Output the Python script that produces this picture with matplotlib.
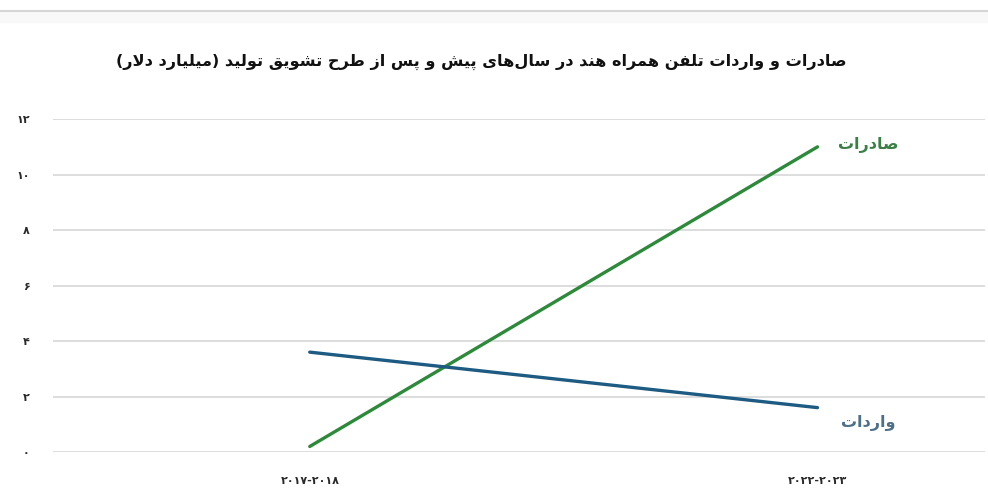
import matplotlib
matplotlib.use("Agg")
import matplotlib.pyplot as plt
from matplotlib.lines import Line2D

# joining forms: (isolated, final, initial, medial); right-joining letters have only two
FORMS = {
    'ا': (0xFE8D, 0xFE8E), 'آ': (0xFE81, 0xFE82),
    'د': (0xFEA9, 0xFEAA), 'ذ': (0xFEAB, 0xFEAC),
    'ر': (0xFEAD, 0xFEAE), 'ز': (0xFEAF, 0xFEB0),
    'ژ': (0xFB8A, 0xFB8B), 'و': (0xFEED, 0xFEEE),
    'ب': (0xFE8F, 0xFE90, 0xFE91, 0xFE92), 'پ': (0xFB56, 0xFB57, 0xFB58, 0xFB59),
    'ت': (0xFE95, 0xFE96, 0xFE97, 0xFE98), 'ث': (0xFE99, 0xFE9A, 0xFE9B, 0xFE9C),
    'ج': (0xFE9D, 0xFE9E, 0xFE9F, 0xFEA0), 'چ': (0xFB7A, 0xFB7B, 0xFB7C, 0xFB7D),
    'ح': (0xFEA1, 0xFEA2, 0xFEA3, 0xFEA4), 'خ': (0xFEA5, 0xFEA6, 0xFEA7, 0xFEA8),
    'س': (0xFEB1, 0xFEB2, 0xFEB3, 0xFEB4), 'ش': (0xFEB5, 0xFEB6, 0xFEB7, 0xFEB8),
    'ص': (0xFEB9, 0xFEBA, 0xFEBB, 0xFEBC), 'ض': (0xFEBD, 0xFEBE, 0xFEBF, 0xFEC0),
    'ط': (0xFEC1, 0xFEC2, 0xFEC3, 0xFEC4), 'ظ': (0xFEC5, 0xFEC6, 0xFEC7, 0xFEC8),
    'ع': (0xFEC9, 0xFECA, 0xFECB, 0xFECC), 'غ': (0xFECD, 0xFECE, 0xFECF, 0xFED0),
    'ف': (0xFED1, 0xFED2, 0xFED3, 0xFED4), 'ق': (0xFED5, 0xFED6, 0xFED7, 0xFED8),
    'ک': (0xFB8E, 0xFB8F, 0xFB90, 0xFB91), 'گ': (0xFB92, 0xFB93, 0xFB94, 0xFB95),
    'ل': (0xFEDD, 0xFEDE, 0xFEDF, 0xFEE0), 'م': (0xFEE1, 0xFEE2, 0xFEE3, 0xFEE4),
    'ن': (0xFEE5, 0xFEE6, 0xFEE7, 0xFEE8), 'ه': (0xFEE9, 0xFEEA, 0xFEEB, 0xFEEC),
    'ی': (0xFBFC, 0xFBFD, 0xFBFE, 0xFBFF),
}
MIRROR = {'(': ')', ')': '('}


def fa(text):
    # shape persian letters into presentation forms, then lay out right to left
    out = []
    chars = list(text)
    i = 0
    while i < len(chars):
        c = chars[i]
        if c == '\u200c':
            i += 1
            continue
        if c not in FORMS:
            out.append(MIRROR.get(c, c))
            i += 1
            continue
        prev = chars[i - 1] if i > 0 else ''
        joins_prev = prev in FORMS and len(FORMS[prev]) == 4
        if c == 'ل' and i + 1 < len(chars) and chars[i + 1] == 'ا':
            out.append(chr(0xFEFC if joins_prev else 0xFEFB))
            i += 2
            continue
        nxt = chars[i + 1] if i + 1 < len(chars) else ''
        joins_next = len(FORMS[c]) == 4 and nxt in FORMS
        f = FORMS[c]
        if joins_prev and joins_next:
            g = f[3]
        elif joins_prev:
            g = f[1]
        elif joins_next:
            g = f[2]
        else:
            g = f[0]
        out.append(chr(g))
        i += 1
    return ''.join(reversed(out))


title = 'صادرات و واردات تلفن همراه هند در سال\u200cهای پیش و پس از طرح تشویق تولید (میلیارد دلار)'
years = ['۲۰۱۷-۲۰۱۸', '۲۰۲۲-۲۰۲۳']
exports = [0.2, 11.0]
imports = [3.6, 1.6]
series_names = ['صادرات', 'واردات']
yticks = [0, 2, 4, 6, 8, 10, 12]
ytick_labels = ['۰', '۲', '۴', '۶', '۸', '۱۰', '۱۲']

green = '#2d8a3a'
blue = '#1d5b82'

plt.rcParams['font.family'] = ['DejaVu Sans']

fig = plt.figure(figsize=(9.88, 4.91), dpi=100)
ax = fig.add_axes([0.054, 0.0794, 0.943, 0.678])

x = list(range(len(years)))
ax.plot(x, exports, color=green, lw=2.4, solid_capstyle='round', clip_on=False, zorder=3)
ax.plot(x, imports, color=blue, lw=2.4, solid_capstyle='round', clip_on=False, zorder=3)

ax.text(1.1, exports[1] + 0.05, fa(series_names[0]), color='#3a7f45', fontsize=11.5,
        fontweight='bold', va='center', ha='center')
ax.text(1.1, imports[1] - 0.55, fa(series_names[1]), color='#4d6f88', fontsize=11.5,
        fontweight='bold', va='center', ha='center')

ax.set_xlim(-0.505, 1.33)
ax.set_ylim(0, 12)
ax.set_yticks(yticks)
ax.set_yticklabels(ytick_labels, fontsize=8, color='#2a2a2a', fontweight='bold')
ax.set_xticks(x)
ax.set_xticklabels(years, fontsize=8, color='#2a2a2a', fontweight='bold')
ax.tick_params(axis='y', length=0, pad=17)
ax.tick_params(axis='x', length=0, pad=17)
ax.grid(axis='y', color='#dadada', lw=1.3)
ax.set_axisbelow(True)
for s in ax.spines.values():
    s.set_visible(False)

fig.text(0.487, 0.874, fa(title), fontsize=11.6, fontweight='bold', ha='center', va='center',
         color='#111111')

# thin separator along the top edge
fig.add_artist(Line2D([0, 1], [0.978, 0.978], color='#d6d6d6', lw=1.5))
fig.patches.append(plt.Rectangle((0, 0.955), 1, 0.021, transform=fig.transFigure,
                                 color='#f8f8f8', zorder=0))

fig.savefig('out.png', dpi=100)
